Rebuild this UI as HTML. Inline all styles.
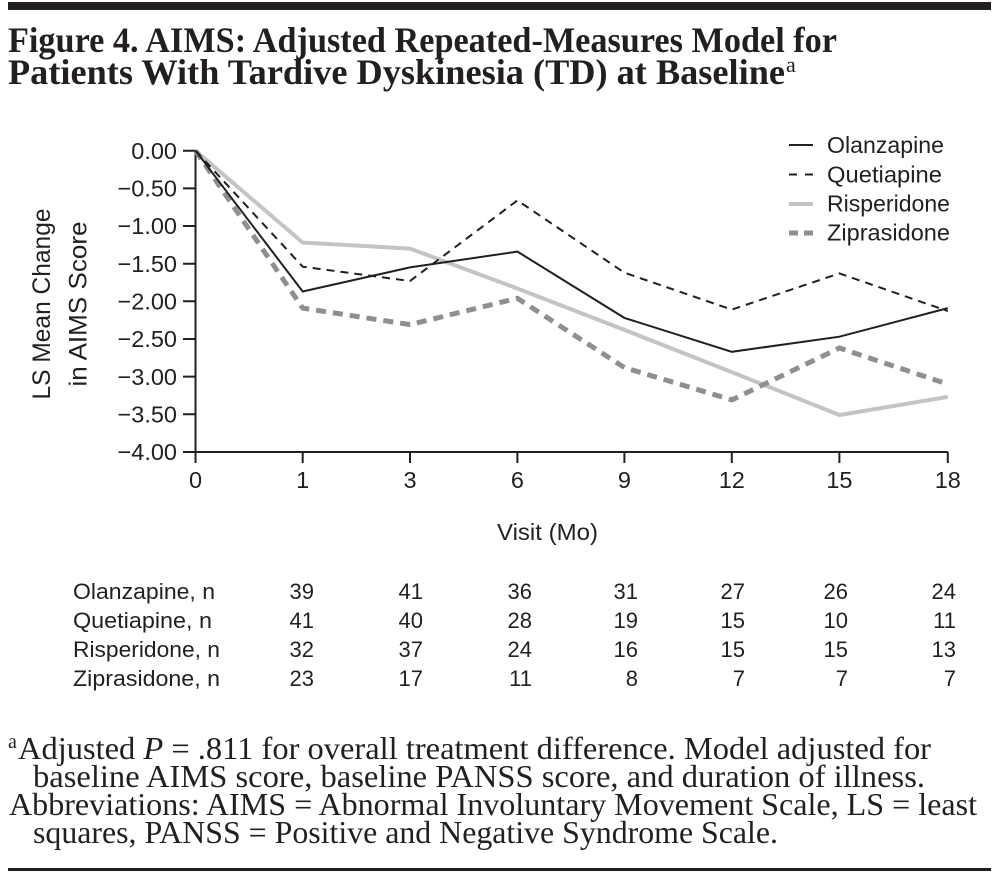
<!DOCTYPE html>
<html><head><meta charset="utf-8"><style>
html,body{margin:0;padding:0;background:#fff;}
svg{display:block;}
.sans{font-family:"Liberation Sans",Arial,sans-serif;fill:#231f20;}
.serif{font-family:"Liberation Serif","Times New Roman",serif;fill:#231f20;}
</style></head><body>
<svg width="1002" height="886" viewBox="0 0 1002 886" xmlns="http://www.w3.org/2000/svg">
<rect width="1002" height="886" fill="#fff"/>
<rect x="8" y="2" width="983" height="8" fill="#231f20"/>

<text class="serif" x="8" y="52" font-size="35.5" font-weight="bold" textLength="829" lengthAdjust="spacingAndGlyphs">Figure 4. AIMS: Adjusted Repeated-Measures Model for</text>
<text class="serif" x="8" y="84" font-size="35.5" font-weight="bold" textLength="777" lengthAdjust="spacingAndGlyphs">Patients With Tardive Dyskinesia (TD) at Baseline</text>
<text class="serif" x="786" y="72" font-size="22">a</text>

<!-- axes -->
<g stroke="#231f20" stroke-width="2" fill="none">
<path d="M195.5 150.7 V452 H947.8"/>
<path d="M183 150.7 H195.5 M183 188.4 H195.5 M183 226 H195.5 M183 263.7 H195.5 M183 301.3 H195.5 M183 339 H195.5 M183 376.6 H195.5 M183 414.3 H195.5 M183 452 H195.5"/>
<path d="M195.5 452 V463 M302.7 452 V463 M410 452 V463 M517.4 452 V463 M624.4 452 V463 M731.8 452 V463 M839.4 452 V463 M947.8 452 V463"/>
</g>

<g class="sans" font-size="23.5" text-anchor="end">
<text x="177" y="159">0.00</text>
<text x="177" y="196.6">−0.50</text>
<text x="177" y="234.2">−1.00</text>
<text x="177" y="271.9">−1.50</text>
<text x="177" y="309.5">−2.00</text>
<text x="177" y="347.2">−2.50</text>
<text x="177" y="384.8">−3.00</text>
<text x="177" y="422.5">−3.50</text>
<text x="177" y="460.2">−4.00</text>
</g>

<g class="sans" font-size="23.5" text-anchor="middle">
<text x="195.5" y="488">0</text>
<text x="302.7" y="488">1</text>
<text x="410" y="488">3</text>
<text x="517.4" y="488">6</text>
<text x="624.4" y="488">9</text>
<text x="731.8" y="488">12</text>
<text x="839.4" y="488">15</text>
<text x="947.8" y="488">18</text>
</g>

<text class="sans" font-size="25" transform="translate(50,304) rotate(-90)" x="-95.5" y="0" textLength="191" lengthAdjust="spacingAndGlyphs">LS Mean Change</text>
<text class="sans" font-size="25" transform="translate(86.5,304) rotate(-90)" x="-82.5" y="0" textLength="165" lengthAdjust="spacingAndGlyphs">in AIMS Score</text>

<text class="sans" font-size="23" x="497" y="540" textLength="101" lengthAdjust="spacingAndGlyphs">Visit (Mo)</text>

<!-- series -->
<g fill="none" stroke-linejoin="miter">
<polyline stroke="#c4c4c4" stroke-width="4" points="195.5,150.7 302.7,242.6 410,248.6 517.4,288.5 624.4,329.9 731.8,372.1 839.4,415 947.8,396.9"/>
<polyline stroke="#8f8f8f" stroke-width="5" stroke-dasharray="10 7" points="195.5,150.7 302.7,308.1 410,324.6 517.4,298.3 624.4,367.6 731.8,399.9 839.4,348 947.8,384.1"/>
<polyline stroke="#231f20" stroke-width="2" points="195.5,150.7 302.7,291.5 410,267.4 517.4,251.6 624.4,317.9 731.8,351.8 839.4,336.7 947.8,308.1"/>
<polyline stroke="#231f20" stroke-width="2" stroke-dasharray="8 6" points="195.5,150.7 302.7,266.7 410,281 517.4,200.4 624.4,272.7 731.8,309.6 839.4,273.4 947.8,311.1"/>
</g>

<!-- legend -->
<g fill="none">
<path d="M789 145 H813" stroke="#231f20" stroke-width="2"/>
<path d="M789 174.5 H797 M805 174.5 H813" stroke="#231f20" stroke-width="2"/>
<path d="M789 204 H813" stroke="#c4c4c4" stroke-width="4"/>
<path d="M789 233 H798 M804 233 H813" stroke="#8f8f8f" stroke-width="5"/>
</g>
<g class="sans" font-size="23">
<text x="827" y="153" textLength="117" lengthAdjust="spacingAndGlyphs">Olanzapine</text>
<text x="827" y="182.5" textLength="115" lengthAdjust="spacingAndGlyphs">Quetiapine</text>
<text x="827" y="211.5" textLength="123" lengthAdjust="spacingAndGlyphs">Risperidone</text>
<text x="827" y="240.5" textLength="123" lengthAdjust="spacingAndGlyphs">Ziprasidone</text>
</g>

<!-- table -->
<g class="sans" font-size="22">
<text x="73" y="599" textLength="142" lengthAdjust="spacingAndGlyphs">Olanzapine, n</text>
<text x="73" y="628" textLength="139" lengthAdjust="spacingAndGlyphs">Quetiapine, n</text>
<text x="73" y="657" textLength="147" lengthAdjust="spacingAndGlyphs">Risperidone, n</text>
<text x="73" y="686" textLength="147" lengthAdjust="spacingAndGlyphs">Ziprasidone, n</text>
</g>
<g class="sans" font-size="22" text-anchor="end">
<text x="314" y="599">39</text><text x="423" y="599">41</text><text x="532" y="599">36</text><text x="638" y="599">31</text><text x="745" y="599">27</text><text x="848" y="599">26</text><text x="956" y="599">24</text>
<text x="314" y="628">41</text><text x="423" y="628">40</text><text x="532" y="628">28</text><text x="638" y="628">19</text><text x="745" y="628">15</text><text x="848" y="628">10</text><text x="956" y="628">11</text>
<text x="314" y="657">32</text><text x="423" y="657">37</text><text x="532" y="657">24</text><text x="638" y="657">16</text><text x="745" y="657">15</text><text x="848" y="657">15</text><text x="956" y="657">13</text>
<text x="314" y="686">23</text><text x="423" y="686">17</text><text x="532" y="686">11</text><text x="638" y="686">8</text><text x="745" y="686">7</text><text x="848" y="686">7</text><text x="956" y="686">7</text>
</g>

<!-- footnotes -->
<text class="serif" x="8" y="748" font-size="20">a</text>
<text class="serif" x="18" y="759" font-size="32" textLength="913" lengthAdjust="spacingAndGlyphs">Adjusted <tspan font-style="italic">P</tspan> = .811 for overall treatment difference. Model adjusted for</text>
<text class="serif" x="33" y="787" font-size="32" textLength="892" lengthAdjust="spacingAndGlyphs">baseline AIMS score, baseline PANSS score, and duration of illness.</text>
<text class="serif" x="9" y="815" font-size="32" textLength="968" lengthAdjust="spacingAndGlyphs">Abbreviations: AIMS = Abnormal Involuntary Movement Scale, LS = least</text>
<text class="serif" x="33" y="843" font-size="32" textLength="745" lengthAdjust="spacingAndGlyphs">squares, PANSS = Positive and Negative Syndrome Scale.</text>

<rect x="8" y="868" width="983" height="3" fill="#231f20"/>
</svg>
</body></html>
